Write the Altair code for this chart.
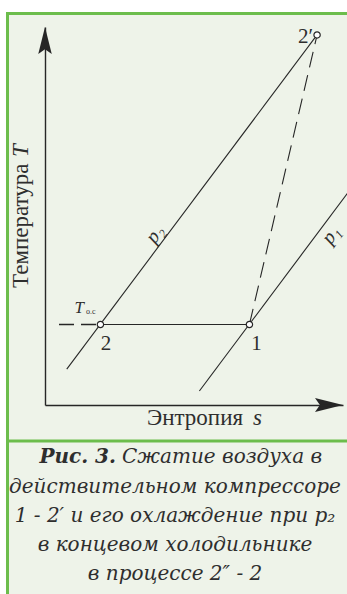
import altair as alt
import pandas as pd

# --- T–s diagram data (entropy s, temperature T, arbitrary units) ---
state_labels = ["2′", "2", "1"]
state_s = [9.13, 1.86, 6.86]
state_T = [9.79, 2.13, 2.13]

# isobars drawn as straight segments
p2_s = [0.73, 9.13]
p2_T = [0.95, 9.79]
p1_s = [5.18, 10.5]
p1_T = [0.37, 5.97]

# ambient temperature level T_o.c leading into point 2
ambient_s = [0.47, 1.86]
ambient_T = [2.13, 2.13]

# isobar labels
isobar_names = ["p₂", "p₁"]
isobar_label_s = [3.69, 9.6]
isobar_label_T = [4.52, 4.50]

# ends of the axes (arrow tips)
axis_end_s = [0.0, 10.0]
axis_end_T = [10.0, 0.0]

y_title = "Температура"
y_title_symbol = "T"
x_title = "Энтропия"
x_title_symbol = "s"
ambient_symbol = "T"
ambient_subscript = "о.с"

fig_number = "Рис. 3."
caption_lines = [
    "Сжатие воздуха в",
    "действительном компрессоре",
    "1 - 2′ и его охлаждение при p₂",
    "в концевом холодильнике",
    "в процессе 2″ - 2",
]

INK = "#262626"
TEXT = "#2e2e2e"
GREEN = "#6cbd4c"
PANEL = "#eef3e9"
SERIF = "Liberation Serif"
CAPTION_FONT = "DejaVu Serif"

W, H = 298, 378

x_enc = alt.X("s:Q", scale=alt.Scale(domain=[0, 10], nice=False, zero=False),
              axis=alt.Axis(title=None, labels=False, ticks=False, grid=False,
                            domainColor=INK, domainWidth=1.4, zindex=1))
y_enc = alt.Y("T:Q", scale=alt.Scale(domain=[0, 10], nice=False, zero=False),
              axis=alt.Axis(title=None, labels=False, ticks=False, grid=False,
                            domainColor=INK, domainWidth=1.4, zindex=1))

states = pd.DataFrame({"label": state_labels, "s": state_s, "T": state_T})
p2 = pd.DataFrame({"s": p2_s, "T": p2_T})
p1 = pd.DataFrame({"s": p1_s, "T": p1_T})
ambient = pd.DataFrame({"s": ambient_s, "T": ambient_T})
cooling = states.iloc[[1, 2]]
compression = states.iloc[[2, 0]]
isobars = pd.DataFrame({"name": isobar_names, "s": isobar_label_s, "T": isobar_label_T})
ends = pd.DataFrame({"s": axis_end_s, "T": axis_end_T, "dir": ["up", "right"]})

anchor = alt.Chart(pd.DataFrame({"k": [0]}))


def text_at(text, x, y, **kw):
    return anchor.mark_text(text=text, **kw).encode(x=alt.value(x), y=alt.value(y))


# frame: light panel, green top/left borders and caption divider
panel = anchor.mark_rect(fill=PANEL).encode(
    x=alt.value(-37.5), x2=alt.value(330), y=alt.value(-13.5), y2=alt.value(600))
top_border = anchor.mark_rule(color=GREEN, strokeWidth=3).encode(
    x=alt.value(-39), x2=alt.value(330), y=alt.value(-13.5))
left_border = anchor.mark_rule(color=GREEN, strokeWidth=3).encode(
    x=alt.value(-37.5), y=alt.value(-15), y2=alt.value(600))
divider = anchor.mark_rule(color=GREEN, strokeWidth=3).encode(
    x=alt.value(-37.5), x2=alt.value(330), y=alt.value(414))

base_line = dict(color=INK, strokeWidth=1.1)
p2_line = alt.Chart(p2).mark_line(**base_line).encode(x=x_enc, y=y_enc)
p1_line = alt.Chart(p1).mark_line(**base_line).encode(x=x_enc, y=y_enc)
cool_line = alt.Chart(cooling).mark_line(**base_line).encode(x=x_enc, y=y_enc)
comp_line = alt.Chart(compression).mark_line(strokeDash=[16, 8], **base_line).encode(x=x_enc, y=y_enc)
amb_line = alt.Chart(ambient).mark_line(strokeDash=[15, 7], color=INK, strokeWidth=1.5).encode(x=x_enc, y=y_enc)

points = alt.Chart(states).mark_point(
    shape="circle", filled=True, fill="white", stroke=INK, strokeWidth=1.2, size=40, opacity=1
).encode(x=x_enc, y=y_enc)

# arrowheads at the axis ends
arrow_up = alt.Chart(ends).transform_filter("datum.dir == 'up'").mark_point(
    shape="M0,0 L0.5,2 L0,1.65 L-0.5,2 Z", filled=True, fill=INK, strokeWidth=0,
    size=729, opacity=1, clip=False).encode(x=x_enc, y=y_enc)
arrow_right = alt.Chart(ends).transform_filter("datum.dir == 'right'").mark_point(
    shape="M0,0 L-2,-0.5 L-1.65,0 L-2,0.5 Z", filled=True, fill=INK, strokeWidth=0,
    size=784, opacity=1, clip=False).encode(x=x_enc, y=y_enc)


def state_label(name, align, dx, dy):
    return alt.Chart(states).transform_filter(alt.datum.label == name).mark_text(
        font=SERIF, fontSize=21, color=TEXT, align=align, baseline="alphabetic", dx=dx, dy=dy
    ).encode(x=x_enc, y=y_enc, text="label:N")


lbl_2p = state_label("2′", "right", -4, 8)
lbl_2 = state_label("2", "center", 5.5, 25.5)
lbl_1 = state_label("1", "center", 7, 25.5)

amb_T = alt.Chart(states).transform_filter(alt.datum.label == "2").mark_text(
    text=ambient_symbol, font=SERIF, fontStyle="italic", fontSize=17, color=TEXT,
    align="left", baseline="alphabetic", dx=-26, dy=-11.5).encode(x=x_enc, y=y_enc)
amb_sub = alt.Chart(states).transform_filter(alt.datum.label == "2").mark_text(
    text=ambient_subscript, font=SERIF, fontSize=8, color=TEXT,
    align="left", baseline="alphabetic", dx=-14.5, dy=-10.5).encode(x=x_enc, y=y_enc)

iso_labels = alt.Chart(isobars).mark_text(
    font=SERIF, fontStyle="italic", fontSize=20, color=TEXT, angle=306.8,
    align="center", baseline="middle").encode(x=x_enc, y=y_enc, text="name:N")

# axis titles
yt = text_at(y_title, -17, 261, font=SERIF, fontSize=23, color=TEXT, angle=270,
             align="left", baseline="alphabetic")
yt_sym = text_at(y_title_symbol, -17, 130, font=SERIF, fontStyle="italic", fontSize=23,
                 color=TEXT, angle=270, align="left", baseline="alphabetic")
xt = text_at(x_title, 102, 398, font=SERIF, fontSize=23, color=TEXT, align="left",
             baseline="alphabetic")
xt_sym = text_at(x_title_symbol, 208, 398, font=SERIF, fontStyle="italic", fontSize=23,
                 color=TEXT, align="left", baseline="alphabetic")

# caption
cap_kw = dict(font=CAPTION_FONT, fontStyle="italic", fontSize=20, color=TEXT,
              baseline="alphabetic")
cap = [
    text_at(fig_number, 71, 436, fontWeight="bold", align="right", **cap_kw),
    text_at(caption_lines[0], 77, 436, align="left", **cap_kw),
]
for i, line in enumerate(caption_lines[1:]):
    cap.append(text_at(line, 130, 466 + 29 * i, align="center", **cap_kw))

chart = alt.layer(
    panel, top_border, left_border, divider,
    p2_line, p1_line, cool_line, comp_line, amb_line,
    points, arrow_up, arrow_right,
    lbl_2p, lbl_2, lbl_1, amb_T, amb_sub, iso_labels,
    yt, yt_sym, xt, xt_sym, *cap,
).properties(
    width=W, height=H,
    padding={"left": 45, "top": 27, "right": 4, "bottom": 189},
    autosize=alt.AutoSizeParams(type="none"),
).configure_view(strokeWidth=0).configure(background="white")

chart.save("out.html", embed_options={"renderer": "svg", "actions": False})
